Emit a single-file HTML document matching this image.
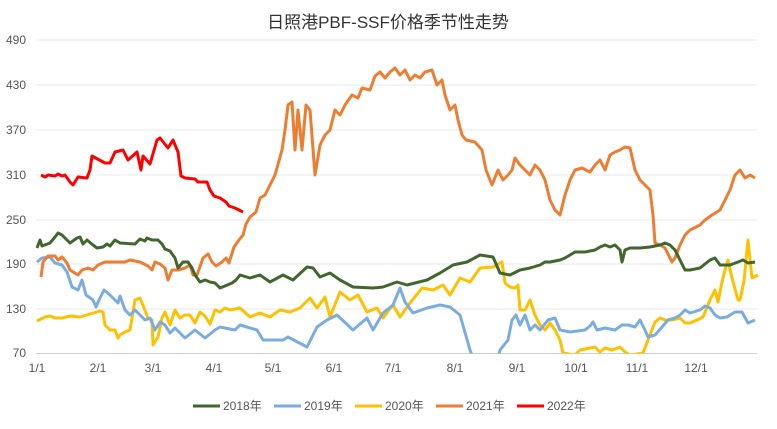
<!DOCTYPE html>
<html><head><meta charset="utf-8"><style>
body{margin:0;background:#fff;width:777px;height:424px;overflow:hidden}
svg{font-family:"Liberation Sans","Noto Sans CJK SC",sans-serif}
</style></head><body>
<svg width="777" height="424" viewBox="0 0 777 424">
<text x="388" y="28" text-anchor="middle" font-size="17" fill="#333">日照港PBF-SSF价格季节性走势</text>
<g stroke="#e8e8e8" stroke-width="1">
<line x1="36" x2="757" y1="40" y2="40"/><line x1="36" x2="757" y1="85" y2="85"/>
<line x1="36" x2="757" y1="130" y2="130"/><line x1="36" x2="757" y1="175" y2="175"/>
<line x1="36" x2="757" y1="220" y2="220"/><line x1="36" x2="757" y1="264" y2="264"/>
<line x1="36" x2="757" y1="309" y2="309"/>
</g>
<line x1="36" x2="757" y1="353.5" y2="353.5" stroke="#d0d0d0"/>
<g font-size="12" fill="#555" text-anchor="end">
<text x="26" y="44">490</text><text x="26" y="89">430</text><text x="26" y="134">370</text>
<text x="26" y="179">310</text><text x="26" y="224">250</text><text x="26" y="268">190</text>
<text x="26" y="313">130</text><text x="26" y="357">70</text>
</g>
<g font-size="12" fill="#555" text-anchor="middle">
<text x="37" y="372">1/1</text><text x="98" y="372">2/1</text><text x="153" y="372">3/1</text>
<text x="214" y="372">4/1</text><text x="273" y="372">5/1</text><text x="334" y="372">6/1</text>
<text x="393" y="372">7/1</text><text x="455" y="372">8/1</text><text x="517" y="372">9/1</text>
<text x="576" y="372">10/1</text><text x="637" y="372">11/1</text><text x="696" y="372">12/1</text>
</g>
<defs><clipPath id="c"><rect x="30" y="35" width="730" height="318.5"/></clipPath></defs>
<g fill="none" stroke-width="3" stroke-linejoin="round" clip-path="url(#c)">
<polyline stroke="#ffc000" points="37,321 45,317 50,316 55,318 62,318 70,316 80,317 90,314 100,311 103,312 105,325 110,330 115,330 118,338 120,335 125,332 130,330 135,300 140,298 148,318 152,320 153,345 158,337 162,318 165,312 170,325 175,310 180,318 185,315 190,315 195,323 200,312 205,316 210,324 215,310 220,312 225,308 230,310 240,308 250,317 260,313 270,317 280,310 290,312 300,308 310,298 317,308 325,297 330,317 340,292 350,300 358,295 367,312 377,308 383,318 393,305 400,317 410,303 422,288 433,290 443,285 450,295 460,278 470,282 480,268 493,267 500,263 502,262 505,283 510,287 515,288 518,285 520,310 525,310 530,300 535,315 540,325 545,330 550,323 555,330 560,340 563,353 575,355 580,350 590,348 595,347 600,352 605,348 612,350 620,347 625,352 630,355 643,353 648,340 655,322 660,318 665,320 672,320 680,318 685,323 690,323 697,320 703,317 710,300 715,290 718,302 722,282 725,270 728,260 732,278 738,300 740,300 744,281 748,240 752,278 758,275"/>
<polyline stroke="#7aadde" points="37,262 42,258 50,257 55,263 62,265 67,272 72,287 78,290 82,280 86,295 93,300 96,307 99,300 104,290 110,295 118,303 120,296 125,310 130,315 135,310 140,315 145,320 150,318 155,330 160,322 165,325 170,333 175,328 180,333 185,338 190,334 195,330 200,334 205,338 210,334 215,330 220,327 225,328 235,330 240,325 257,330 263,340 283,340 288,337 307,347 317,327 327,320 337,315 353,330 367,318 373,330 383,313 393,305 400,288 405,302 413,313 427,308 440,305 450,307 460,315 470,350 473,358 498,358 500,350 508,340 512,320 516,315 520,325 525,315 530,330 535,325 540,330 548,320 555,318 560,330 570,332 585,330 590,326 593,322 597,330 605,328 615,330 622,325 628,325 635,327 640,320 645,330 648,337 655,335 662,327 668,320 675,318 680,315 685,310 690,313 700,310 705,306 710,308 715,315 720,318 727,317 735,312 742,312 748,323 755,320"/>
<polyline stroke="#ed7d31" points="41,277 43,262 48,256 55,256 58,260 62,257 67,263 70,270 78,275 82,270 88,268 93,270 98,265 105,262 115,262 125,262 130,260 140,262 148,266 152,270 155,262 160,264 165,268 168,280 172,270 178,270 185,268 190,265 193,275 197,275 203,258 208,254 212,262 216,266 222,262 226,258 229,263 234,247 239,240 243,235 246,224 250,217 256,212 260,198 265,195 270,185 275,175 282,150 285,130 288,105 292,102 295,150 298,110 302,150 306,105 310,110 315,175 320,145 325,135 330,130 335,110 340,115 345,105 352,95 358,98 362,88 370,90 375,76 380,72 385,78 390,72 395,68 400,75 405,70 410,80 415,75 420,78 425,72 432,70 437,85 442,80 445,95 450,110 455,105 458,120 462,135 466,140 475,142 482,150 486,170 492,185 498,170 503,180 508,175 512,170 515,158 520,165 530,175 535,165 540,170 545,180 550,200 555,210 560,215 565,195 570,180 575,170 582,168 590,172 595,165 600,160 605,170 610,155 615,152 620,150 625,147 630,148 635,170 640,180 645,185 650,190 653,215 655,243 660,245 665,248 672,262 675,258 680,245 685,235 690,230 700,225 705,220 712,215 720,210 725,200 730,190 735,175 740,170 745,178 750,175 755,178"/>
<polyline stroke="#41662e" points="37,248 40,240 42,246 50,243 55,237 58,233 62,235 67,240 70,243 77,238 80,237 83,244 87,240 93,245 97,248 103,247 107,244 110,246 115,240 120,243 135,244 140,239 145,241 147,238 152,240 158,240 162,244 165,249 170,251 175,258 178,268 183,262 188,262 192,268 195,275 200,282 205,280 210,282 215,283 220,288 225,286 232,283 236,280 240,275 250,278 260,275 270,282 283,275 293,280 307,267 313,268 320,277 330,273 340,280 353,287 373,288 383,287 397,282 407,285 427,280 440,273 453,265 467,262 480,255 493,257 500,273 510,275 520,270 530,268 540,265 545,262 550,262 560,260 565,258 570,255 575,252 585,252 595,250 600,247 605,245 610,247 615,245 620,250 622,262 625,250 630,248 640,248 650,247 660,245 665,243 670,245 675,250 680,260 685,270 690,270 700,268 710,260 715,258 720,265 730,265 738,262 743,260 748,263 755,262"/>
<polyline stroke="#ff0000" points="41,175 45,177 48,175 55,176 58,174 62,176 65,175 70,182 73,185 78,177 87,178 90,170 92,156 105,163 110,163 115,152 123,150 128,160 137,152 141,170 143,156 150,164 157,140 160,138 168,148 173,140 178,152 181,176 185,178 195,179 198,182 207,182 210,190 214,196 220,198 226,202 229,206 235,208 243,212"/>
</g>
<g font-size="12" fill="#555">
<line x1="193" x2="220" y1="406" y2="406" stroke="#41662e" stroke-width="3"/><text x="223" y="410">2018年</text>
<line x1="274" x2="301" y1="406" y2="406" stroke="#7aadde" stroke-width="3"/><text x="304" y="410">2019年</text>
<line x1="355" x2="382" y1="406" y2="406" stroke="#ffc000" stroke-width="3"/><text x="385" y="410">2020年</text>
<line x1="436" x2="463" y1="406" y2="406" stroke="#ed7d31" stroke-width="3"/><text x="466" y="410">2021年</text>
<line x1="517" x2="544" y1="406" y2="406" stroke="#ff0000" stroke-width="3"/><text x="547" y="410">2022年</text>
</g>
</svg>
</body></html>
